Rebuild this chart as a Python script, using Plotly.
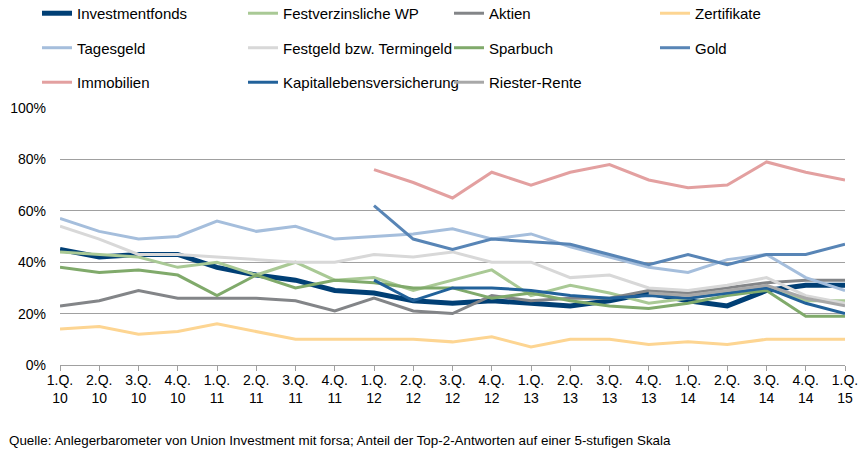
import plotly.graph_objects as go

quarters = ["1.Q.<br>10", "2.Q.<br>10", "3.Q.<br>10", "4.Q.<br>10",
            "1.Q.<br>11", "2.Q.<br>11", "3.Q.<br>11", "4.Q.<br>11",
            "1.Q.<br>12", "2.Q.<br>12", "3.Q.<br>12", "4.Q.<br>12",
            "1.Q.<br>13", "2.Q.<br>13", "3.Q.<br>13", "4.Q.<br>13",
            "1.Q.<br>14", "2.Q.<br>14", "3.Q.<br>14", "4.Q.<br>14",
            "1.Q.<br>15"]

investmentfonds = [45, 42, 43, 43, 38, 35, 33, 29, 28, 25, 24, 25, 24, 23, 25, 28, 25, 23, 29, 31, 31]
festverzinsliche = [44, 43, 42, 38, 40, 35, 40, 33, 34, 29, 33, 37, 27, 31, 28, 24, 26, 28, 30, 25, 25]
aktien = [23, 25, 29, 26, 26, 26, 25, 21, 26, 21, 20, 27, 25, 26, 26, 29, 28, 30, 32, 33, 33]
zertifikate = [14, 15, 12, 13, 16, 13, 10, 10, 10, 10, 9, 11, 7, 10, 10, 8, 9, 8, 10, 10, 10]
tagesgeld = [57, 52, 49, 50, 56, 52, 54, 49, 50, 51, 53, 49, 51, 46, 42, 38, 36, 41, 43, 34, 29]
festgeld = [54, 49, 43, 43, 42, 41, 40, 40, 43, 42, 44, 40, 40, 34, 35, 30, 29, 31, 34, 27, 24]
sparbuch = [38, 36, 37, 35, 27, 35, 30, 33, 32, 30, 30, 26, 28, 25, 23, 22, 24, 27, 29, 19, 19]
gold = [None] * 8 + [62, 49, 45, 49, 48, 47, 43, 39, 43, 39, 43, 43, 47]
immobilien = [None] * 8 + [76, 71, 65, 75, 70, 75, 78, 72, 69, 70, 79, 75, 72]
kapitalleben = [None] * 8 + [33, 25, 30, 30, 29, 27, 26, 27, 26, 28, 30, 24, 20]
riester = [None] * 15 + [28, 27, 29, 31, 26, 23]

series = [
    ("Investmentfonds", investmentfonds, "#003f75", 5),
    ("Festverzinsliche WP", festverzinsliche, "#a9c995", 3),
    ("Aktien", aktien, "#838588", 3),
    ("Zertifikate", zertifikate, "#fdd592", 3),
    ("Tagesgeld", tagesgeld, "#a5bedc", 3),
    ("Festgeld bzw. Termingeld", festgeld, "#d8d8d8", 3),
    ("Sparbuch", sparbuch, "#80aa6b", 3),
    ("Gold", gold, "#5885b6", 3),
    ("Immobilien", immobilien, "#e3a0a0", 3),
    ("Kapitallebensversicherung", kapitalleben, "#21619a", 3),
    ("Riester-Rente", riester, "#a8a8a8", 3),
]

FONT = "Liberation Sans, Arial, sans-serif"

fig = go.Figure()
for name, vals, color, width in series:
    fig.add_trace(go.Scatter(
        x=quarters, y=vals, name=name, mode="lines",
        line=dict(color=color, width=width),
        legendgroup=name, connectgaps=False,
    ))

fig.update_layout(
    width=862, height=459,
    margin=dict(l=60, r=17, t=108, b=94, autoexpand=False),
    paper_bgcolor="white", plot_bgcolor="white",
    font=dict(family=FONT, size=15, color="black"),
    showlegend=True,
    legend=dict(
        orientation="h", x=-0.0293, xanchor="left", y=1.432, yanchor="top",
        entrywidth=161, entrywidthmode="pixels", itemwidth=30,
        tracegroupgap=12, font=dict(family=FONT, size=15, color="black"),
        bgcolor="rgba(0,0,0,0)", traceorder="grouped",
    ),
    xaxis=dict(
        type="category", categoryorder="array", categoryarray=quarters,
        range=[0, 20], showgrid=False, showline=True, linecolor="#a0a0a0",
        linewidth=1, ticks="outside", ticklen=5, tickcolor="#a0a0a0",
        tickfont=dict(family=FONT, size=14, color="black"), tickangle=0,
        ticklabelstandoff=-3,
    ),
    yaxis=dict(
        range=[0, 100], dtick=20, tick0=0, ticksuffix="%",
        showgrid=True, gridcolor="#a0a0a0", gridwidth=1, zeroline=False,
        showline=False, ticks="", ticklabelstandoff=13,
        tickfont=dict(family=FONT, size=14, color="black"),
    ),
    annotations=[dict(
        text="Quelle: Anlegerbarometer von Union Investment mit forsa; Anteil der Top-2-Antworten auf einer 5-stufigen Skala",
        xref="paper", yref="paper", x=-0.0675, y=-0.2957, xanchor="left", yanchor="middle",
        showarrow=False, font=dict(family=FONT, size=13.4, color="black"),
    )],
)

fig.write_html("out.html", config={"displayModeBar": False},
               post_script="document.body.style.margin='0px';")
